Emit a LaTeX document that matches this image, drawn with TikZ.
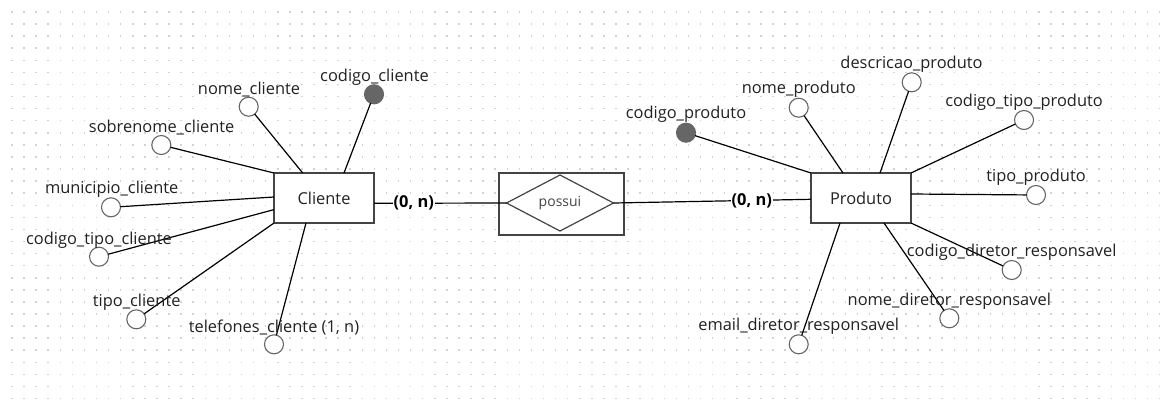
\documentclass[tikz,border=0pt]{standalone}
\usepackage{fontspec}
\setmainfont{Open Sans}
\usetikzlibrary{shapes.geometric,calc}
\definecolor{dotc}{HTML}{D2D2D2}
\definecolor{boxc}{HTML}{444444}
\definecolor{circc}{HTML}{666666}
\definecolor{txtc}{HTML}{222222}
\tikzset{
  entity/.style={draw=boxc, line width=1.4pt, fill=white, minimum width=100pt, minimum height=50pt, inner sep=0pt, outer sep=0pt, text=txtc, font=\fontsize{16.4}{19}\selectfont},
  attr/.style={circle, draw=circc, line width=1.1pt, fill=white, minimum size=19pt, inner sep=0pt, outer sep=0pt},
  keyattr/.style={circle, draw=circc, fill=circc, line width=1.1pt, minimum size=19pt, inner sep=0pt, outer sep=0pt},
  lbl/.style={inner sep=0pt, text=txtc, font=\fontsize{16.4}{19}\selectfont},
  conn/.style={draw=black, line width=1.2pt},
  card/.style={fill=white, inner sep=1pt, text=black, font=\fontsize{16.4}{19}\selectfont\bfseries}
}
\begin{document}
\begin{tikzpicture}[x=1pt,y=-1pt]
\useasboundingbox (0,0) rectangle (1166,410);
\fill[white] (0,0) rectangle (1166,410);
\foreach \r in {0,...,32}
  \draw[dotc, line width=1.5pt, dash pattern=on 1.5pt off 10.58pt] (11.25,{12+\r*12.08}) -- (1163,{12+\r*12.08});

% entities
\node[entity] (cli) at (324,198) {Cliente};
\node[entity] (pro) at (861,198) {Produto};
\node[draw=boxc, line width=1.4pt, fill=white, minimum width=125pt, minimum height=62pt, inner sep=0pt, outer sep=0pt] (rel) at (561.5,204) {};
\node[diamond, aspect=2, draw=boxc, line width=1.2pt, minimum width=107pt, minimum height=56pt, inner sep=0pt, outer sep=0pt, text=boxc, font=\fontsize{14}{16}\selectfont] (dia) at (560,203) {possui};

% Cliente attributes
\node[attr] (a1) at (248.7,106.7) {};
\node[keyattr] (a2) at (374,94.3) {};
\node[attr] (a3) at (161.3,145) {};
\node[attr] (a4) at (111,207.3) {};
\node[attr] (a5) at (99,256.7) {};
\node[attr] (a6) at (136.3,319.3) {};
\node[attr] (a7) at (274,344.3) {};

\draw[conn] ([xshift=28.7pt]cli.north west) -- (a1);
\draw[conn] ([xshift=70pt]cli.north west) -- (a2);
\draw[conn] (cli.north west) -- (a3);
\draw[conn] ([yshift=-24pt]cli.north west) -- (a4);
\draw[conn] ([yshift=-36.6pt]cli.north west) -- (a5);
\draw[conn] (cli.south west) -- (a6);
\draw[conn] ([xshift=32pt]cli.south west) -- (a7);

\node[lbl] (l1) at (249,90) {nome\_cliente};
\node[lbl] (l2) at (374.5,77) {codigo\_cliente};
\node[lbl] (l3) at (161.7,128) {sobrenome\_cliente};
\node[lbl] (l4) at (111.7,189.5) {municipio\_cliente};
\node[lbl] (l5) at (99,240) {codigo\_tipo\_cliente};
\node[lbl] (l6) at (136.7,302.5) {tipo\_cliente};
\node[lbl] (l7) at (274,327.5) {telefones\_cliente (1, n)};

% Produto attributes
\node[keyattr] (b1) at (686,132.7) {};
\node[attr] (b2) at (798.7,107.7) {};
\node[attr] (b3) at (911.7,82.3) {};
\node[attr] (b4) at (1024,120) {};
\node[attr] (b5) at (1036,195) {};
\node[attr] (b6) at (1011.7,270) {};
\node[attr] (b7) at (949.3,318.3) {};
\node[attr] (b8) at (798.7,344.3) {};

\draw[conn] (pro.north west) -- (b1);
\draw[conn] ([xshift=32pt]pro.north west) -- (b2);
\draw[conn] ([xshift=69pt]pro.north west) -- (b3);
\draw[conn] (pro.north east) -- (b4);
\draw[conn] ([yshift=-21pt]pro.north east) -- (b5);
\draw[conn] (pro.south east) -- (b6);
\draw[conn] ([xshift=-27pt]pro.south east) -- (b7);
\draw[conn] ([xshift=29pt]pro.south west) -- (b8);

\node[lbl] (m1) at (686,114) {codigo\_produto};
\node[lbl] (m2) at (798.7,89.3) {nome\_produto};
\node[lbl] (m3) at (911.5,64) {descricao\_produto};
\node[lbl] (m4) at (1024,102.3) {codigo\_tipo\_produto};
\node[lbl] (m5) at (1036,177.3) {tipo\_produto};
\node[lbl] (m6) at (1011.7,252.3) {codigo\_diretor\_responsavel};
\node[lbl] (m7) at (949.3,301.7) {nome\_diretor\_responsavel};
\node[lbl] (m8) at (798.7,326.7) {email\_diretor\_responsavel};

% relationship connectors
\draw[conn] ([yshift=-5.3pt]cli.east) -- node[card, pos=0.30] (c1) {(0, n)} (dia.west);
\draw[conn] (dia.east) -- node[card, pos=0.70] (c2) {(0, n)} ([yshift=-1.3pt]pro.west);
\end{tikzpicture}
\end{document}
